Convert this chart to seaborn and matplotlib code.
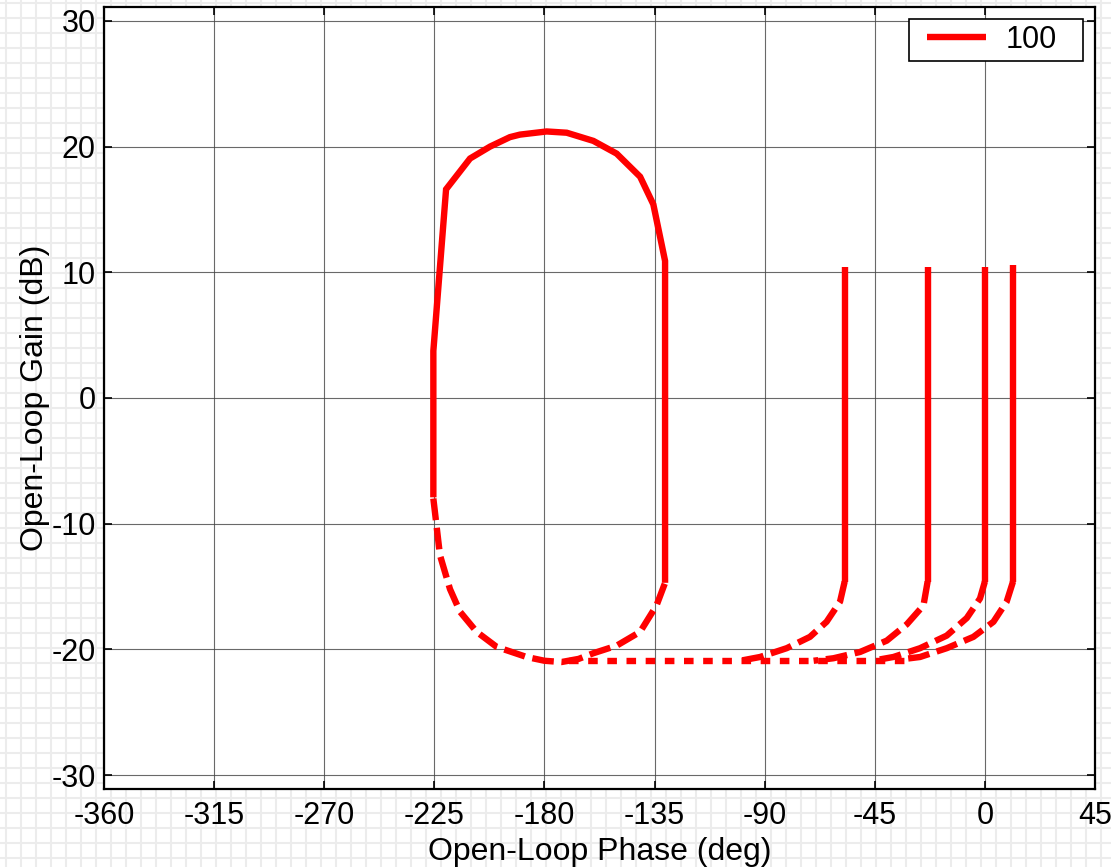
import numpy as np
import pandas as pd
import matplotlib
matplotlib.use("Agg")
import matplotlib.pyplot as plt
from matplotlib.lines import Line2D
from matplotlib.legend_handler import HandlerLine2D
from matplotlib.path import Path
import seaborn as sns

# ---- data (phase in deg, gain in dB) ----
loop_top_phase = [-225.4, -225.4, -220.2, -210.4, -202.2, -194.1, -190.0, -179.1,
                  -170.9, -160.0, -150.5, -140.9, -135.5, -130.7, -130.7]
loop_top_gain = [-7.9, 3.75, 16.6, 19.05, 20.0, 20.75, 20.95, 21.2,
                 21.1, 20.45, 19.44, 17.6, 15.4, 10.9, -14.7]

loop_bot_phase = [-225.4, -222.7, -218.6, -214.5, -207.7, -199.5, -187.3, -180.0,
                  -173.0, -166.0, -160.0, -150.5, -140.9, -134.2, -130.7]
loop_bot_gain = [-8.0, -12.5, -15.2, -17.0, -18.6, -19.8, -20.6, -20.9,
                 -21.0, -20.75, -20.3, -19.7, -18.6, -16.5, -14.7]

floor_phase = [-170.0, -30.0]
floor_gain = [-20.95, -20.95]

vert_phase = [-57.3, -23.4, 0.0, 11.5]
vert_top = [10.4, 10.4, 10.4, 10.55]
vert_bot = [-14.6, -14.6, -14.6, -14.6]

tail_phase = [
    [-57.3, -59.2, -64.7, -71.5, -81.0, -91.9, -100.0],
    [-23.4, -25.1, -31.9, -40.1, -51.0, -61.9, -70.0],
    [0.0, -2.0, -7.4, -15.6, -26.5, -37.4, -46.0],
    [11.5, 8.9, 3.5, -4.7, -15.6, -26.5, -34.7],
]
tail_gain = [
    [-14.6, -16.2, -17.8, -19.0, -19.9, -20.6, -20.9],
    [-14.6, -16.5, -18.0, -19.3, -20.2, -20.7, -20.9],
    [-14.6, -15.95, -17.5, -18.9, -19.9, -20.6, -20.9],
    [-14.6, -16.2, -17.8, -19.0, -19.9, -20.6, -20.8],
]

x_ticks = [-360, -315, -270, -225, -180, -135, -90, -45, 0, 45]
y_ticks = [-30, -20, -10, 0, 10, 20, 30]
legend_label = "100"

# ---- style ----
sns.set_style("white")
plt.rcParams['font.family'] = ['Liberation Sans', 'DejaVu Sans']
plt.rcParams['text.color'] = 'black'
plt.rcParams['axes.labelcolor'] = 'black'
plt.rcParams['xtick.color'] = 'black'
plt.rcParams['ytick.color'] = 'black'

W, H = 1111, 867
fig = plt.figure(figsize=(W / 100, H / 100), dpi=100, facecolor="white")

# graph-paper background outside the plot area
bg = fig.add_axes([0, 0, 1, 1], zorder=-10)
bg.set_xlim(0, W)
bg.set_ylim(H, 0)
bg.set_xticks(np.arange(5.7, W, 15))
bg.set_yticks(np.arange(3.3, H, 15))
bg.grid(True, color="#ececec", linewidth=1.5)
bg.tick_params(length=0, labelbottom=False, labelleft=False)
for s in bg.spines.values():
    s.set_visible(False)

ax = fig.add_axes([104 / W, 1 - 789 / H, (1095 - 104) / W, (789 - 7) / H])
ax.set_facecolor("white")

RED = "#ff0000"
LW = 4.6
dash = (3.4, 1.2)
dot = (1.5, 1.5)

def seg(xs, ys, **kw):
    df = pd.DataFrame({"phase": xs, "gain": ys})
    sns.lineplot(data=df, x="phase", y="gain", sort=False, estimator=None,
                 color=RED, linewidth=LW, ax=ax, **kw)

seg(loop_top_phase, loop_top_gain, label=legend_label)
ax.lines[-1].set_solid_joinstyle("miter")
ax.lines[-1].set_solid_capstyle("butt")
seg(loop_bot_phase, loop_bot_gain, legend=False)
ax.lines[-1].set_dashes(dash); ax.lines[-1].set_dash_capstyle("butt")
seg(floor_phase, floor_gain, legend=False)
ax.lines[-1].set_dashes(dot); ax.lines[-1].set_dash_capstyle("butt")
for p, t, b in zip(vert_phase, vert_top, vert_bot):
    seg([p, p], [t, b], legend=False)
    ax.lines[-1].set_solid_capstyle("butt")
for tp, tg in zip(tail_phase, tail_gain):
    seg(tp, tg, legend=False)
    ax.lines[-1].set_dashes(dash); ax.lines[-1].set_dash_capstyle("butt")

ax.set_xlim(-360, 45)
ax.set_ylim(-31.1, 31.1)
ax.set_xticks(x_ticks)
ax.set_yticks(y_ticks)
ax.set_xticklabels([str(v) for v in x_ticks])
ax.set_yticklabels([str(v) for v in y_ticks])
ax.grid(True, color="#444444", linewidth=0.8, alpha=0.8)
ax.tick_params(direction="in", length=6, width=1.2, labelsize=22,
               top=True, right=True, bottom=True, left=True, colors="black")
ax.tick_params(axis="x", pad=9)
ax.tick_params(axis="y", pad=6)
for s in ax.spines.values():
    s.set_visible(True)
    s.set_color("black")
    s.set_linewidth(1.6)

ax.set_xlabel("Open-Loop Phase (deg)", fontsize=23, labelpad=4)
ax.set_ylabel("Open-Loop Gain (dB)", fontsize=23, labelpad=1)

# legend with extra room on the right of the text, like the reference box
EXTRA_RIGHT = 20  # px

def legend_box(x0, y0, width, height, mutation_size):
    x1 = x0 + width + EXTRA_RIGHT
    y1 = y0 + height
    return Path([(x0, y0), (x1, y0), (x1, y1), (x0, y1), (x0, y0)], closed=True)

leg = ax.legend(loc="upper right", bbox_to_anchor=(0.9677, 0.9847),
                borderaxespad=0, fontsize=22, frameon=True, fancybox=False,
                edgecolor="black", framealpha=1, handlelength=2.33,
                handletextpad=0.64, borderpad=0.2,
                handler_map={Line2D: HandlerLine2D(xpad=0.39)})
leg.get_frame().set_linewidth(1.2)
leg.get_frame().set_boxstyle(legend_box)

fig.savefig("out.png", dpi=100, facecolor="white")
